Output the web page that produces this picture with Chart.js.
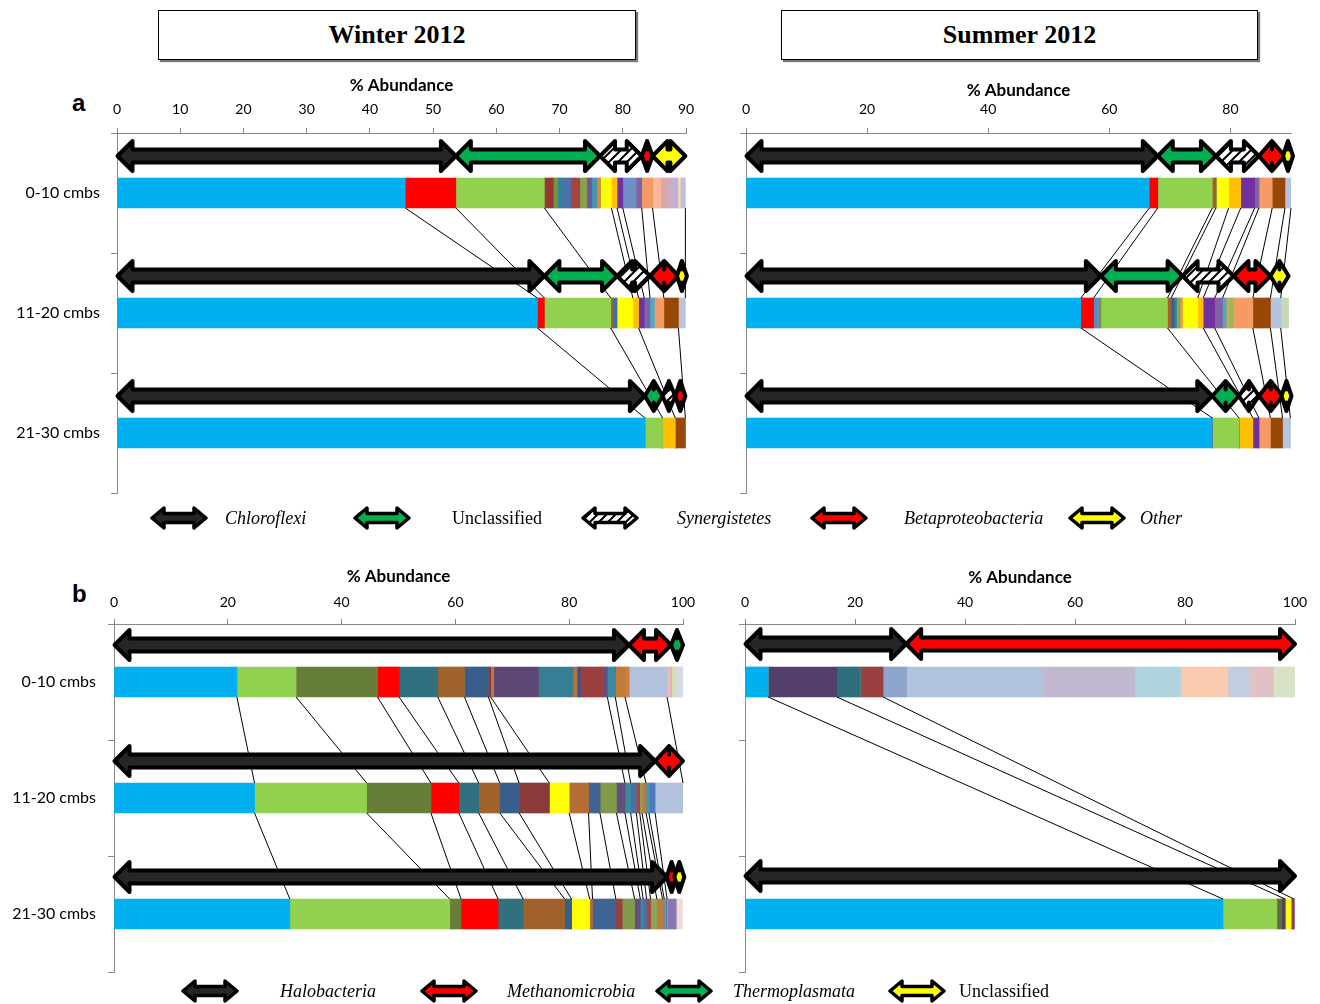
<!DOCTYPE html>
<html>
<head>
<meta charset="utf-8">
<script src="https://cdn.jsdelivr.net/npm/chart.js@4.4.1/dist/chart.umd.min.js"></script>
<style>
  body { margin: 0; background: #fff; }
  #page { position: relative; width: 1320px; height: 1004px; overflow: hidden; font-family: Lato, sans-serif; }
  .box { position: absolute; top: 10px; height: 48px; border: 1px solid #000; box-shadow: 2px 2px 1px #777;
         font: bold 26px "Liberation Serif", serif; text-align: center; line-height: 48px; background: #fff; }
  .panel { position: absolute; }
  .letter { position: absolute; font: bold 24px "Liberation Sans", sans-serif; line-height: 28px; }
  .leg { position: absolute; font: 18px "Liberation Serif", serif; line-height: 22px; white-space: nowrap; }
  .icon { position: absolute; }
</style>
</head>
<body>
<div id="page">
  <div class="box" style="left:158px;width:476px;">Winter 2012</div>
  <div class="box" style="left:781px;width:475px;">Summer 2012</div>
  <div class="letter" style="left:72px;top:89px;">a</div>
  <div class="letter" style="left:72px;top:580px;">b</div>

  <div class="panel" style="left:0;top:60px;"><canvas id="winterA" width="706" height="457"></canvas></div>
  <div class="panel" style="left:630px;top:60px;"><canvas id="summerA" width="680" height="440"></canvas></div>
  <div class="panel" style="left:0;top:550px;"><canvas id="winterB" width="705" height="446"></canvas></div>
  <div class="panel" style="left:630px;top:550px;"><canvas id="summerB" width="687" height="430"></canvas></div>

  <div id="legends"></div>
</div>

<script>
// categories
const depths = ['0-10 cmbs', '11-20 cmbs', '21-30 cmbs'];
const phylaA = ['Chloroflexi', 'Unclassified', 'Synergistetes', 'Betaproteobacteria', 'Other'];
const phylaB = ['Halobacteria', 'Methanomicrobia', 'Thermoplasmata', 'Unclassified'];

// tick labels
const ticksWinterA = [0, 10, 20, 30, 40, 50, 60, 70, 80, 90];
const ticksSummerA = [0, 20, 40, 60, 80];
const ticksB = [0, 20, 40, 60, 80, 100];

// % abundance per taxon, one value per depth
const winterAValues = [
  [45.6, 66.5, 83.5], [8.0, 1.1, 0], [14.0, 10.5, 2.8], [1.4, 0, 0], [0.7, 0, 0],
  [0.7, 0, 0], [1.4, 0, 0], [1.4, 0, 0], [1.1, 0, 0], [0.8, 0, 0],
  [0.8, 0, 0], [0.5, 0, 0], [0, 0.4, 0], [0, 0.6, 0], [1.8, 2.5, 0],
  [0.9, 0.9, 2.0], [0.9, 0.9, 0], [2.1, 0, 0], [0.9, 0.9, 0], [0, 0.7, 0],
  [1.7, 1.5, 0], [0, 2.3, 1.6], [1.3, 0, 0], [1.4, 0, 0], [1.3, 0, 0],
  [0.4, 0, 0], [0.8, 1.1, 0]
];
const winterAPhylum = [0, 0, 1, 1, 1, 1, 1, 1, 1, 1, 1, 1, 1, 1, 2, 2, 2, 2, 2, 3, 3, 3, 4, 4, 4, 4, 4];

const summerAValues = [
  [66.6, 55.3, 77.0], [1.4, 2.1, 0], [0, 0.8, 0], [0, 0.4, 0], [9.0, 11.0, 4.4],
  [0.6, 0.6, 0], [0, 0.5, 0], [0, 0.4, 0], [0, 0.6, 0], [0, 0.4, 0],
  [2.1, 2.5, 0], [2.0, 0.9, 2.3], [2.3, 1.9, 1.0], [0.7, 1.3, 0], [0, 0.6, 0],
  [0, 0.3, 0], [0, 0.9, 0], [2.2, 3.2, 1.9], [2.1, 2.9, 2.0], [1.0, 1.7, 1.3],
  [0, 1.3, 0]
];
const summerAPhylum = [0, 0, 0, 0, 1, 1, 1, 1, 1, 1, 2, 2, 2, 2, 2, 2, 2, 3, 3, 4, 4];

const winterBValues = [
  [21.6, 24.7, 30.9], [10.4, 19.7, 28.1], [14.3, 11.3, 2.0], [3.8, 4.9, 6.5], [6.8, 3.5, 4.4],
  [4.7, 3.7, 7.3], [4.2, 3.4, 1.2], [0.4, 5.3, 0], [0.5, 0, 0], [0, 3.5, 3.2],
  [0, 3.4, 0.5], [7.9, 0, 0], [6.1, 0, 0], [0.7, 0, 0], [0.5, 0, 0],
  [0, 2.0, 4.1], [4.0, 0, 1.1], [0, 2.9, 2.2], [0.8, 1.5, 1.0], [1.4, 1.0, 0.5],
  [0, 1.0, 0.6], [0, 0.6, 0.7], [0, 0.4, 1.1], [1.7, 0.7, 1.0], [0, 0.5, 0.3],
  [0.7, 0, 0.2], [0, 1.1, 0.3], [6.7, 4.9, 0], [0.7, 0, 0], [0, 0, 1.6],
  [1.0, 0, 0], [1.1, 0, 0], [0, 0, 1.1]
];
const winterBPhylum = [0, 0, 0, 0, 0, 0, 0, 0, 0, 0, 0, 0, 0, 0, 0, 0, 0, 0, 0, 0,
  0, 0, 0, 0, 0, 0, 0, 1, 1, 1, 2, 2, 3];

const summerBValues = [
  [4.2, 0, 86.9], [0, 0, 9.8], [0, 0, 0.9], [12.5, 0, 0.6], [4.3, 0, 0],
  [0, 0, 1.1], [4.1, 0, 0.5], [4.2, 0, 0], [0, 0, 0.2], [24.8, 0, 0],
  [16.8, 0, 0], [8.3, 0, 0], [8.6, 0, 0], [4.0, 0, 0], [4.3, 0, 0],
  [3.9, 0, 0]
];
const summerBPhylum = [0, 0, 0, 0, 0, 0, 0, 0, 0, 1, 1, 1, 1, 1, 1, 1];

// colours
const winterAColors = ['#00B0F0', '#FF0000', '#92D050', '#953735', '#77933C', '#31849B', '#4A72A8', '#A5443F',
  '#86A24A', '#6B5A96', '#4198AF', '#E2882F', '#A0622D', '#3A6DB3', '#FFFF00', '#FFC000', '#7030A0', '#6F8FC6',
  '#8064A2', '#4BACC6', '#F79B66', '#974706', '#FAB896', '#D9A8AC', '#BFB1CF', '#FCD5B5', '#B9C4DC'];
const summerAColors = ['#00B0F0', '#FF0000', '#5B8BC8', '#77933C', '#92D050', '#A0622D', '#3D5F8F', '#31849B',
  '#8DA34E', '#E8A13A', '#FFFF00', '#FFC000', '#7030A0', '#8064A2', '#4BACC6', '#F79646', '#9BBB59', '#F79B66',
  '#974706', '#B4C4DE', '#C4D9B4'];
const winterBColors = ['#00B0F0', '#92D050', '#677E38', '#FF0000', '#31707F', '#A0622D', '#3A5E8C', '#8B3A3A',
  '#C0703A', '#FFFF00', '#B46D33', '#5E4776', '#357E93', '#C07234', '#2F5597', '#3E6496', '#9A3E3E', '#7F9A48',
  '#634E7E', '#3B8AA0', '#4A6FA5', '#A94444', '#8AA656', '#C27A38', '#4198AF', '#D08040', '#4F7BBE',
  '#B2C2DD', '#E6B9B8', '#8A76AE', '#D2DFBE', '#D3DAEB', '#F2D9D9'];
const summerBColors = ['#00B0F0', '#92D050', '#5F6F3B', '#533F6B', '#2F6E7E', '#FFFF00', '#9A3F3F', '#8EA5CB',
  '#8C7BA8', '#B0C2DC', '#BFB8CF', '#B0D4DD', '#F9C9B0', '#C3CCE0', '#E1C1C3', '#D7E1C4'];

const axisGrey = '#898989';
const font = 'Lato';

function hatchPattern(ctx) {
  const c = document.createElement('canvas');
  c.width = 9; c.height = 9;
  const g = c.getContext('2d');
  g.fillStyle = '#fff';
  g.fillRect(0, 0, 9, 9);
  g.strokeStyle = '#000';
  g.lineWidth = 2;
  g.beginPath();
  g.moveTo(-2, 11); g.lineTo(11, -2);
  g.moveTo(-6, 6); g.lineTo(6, -6);
  g.moveTo(3, 15); g.lineTo(15, 3);
  g.stroke();
  return ctx.createPattern(c, 'repeat');
}

function arrowFills(ctx) {
  return ['#262626', '#00B050', hatchPattern(ctx), '#FF0000', '#FFFF00'];
}
function arrowFillsB(ctx) {
  return ['#262626', '#FF0000', '#00B050', '#FFFF00'];
}

function drawArrow(ctx, x1, x2, y, fill, hh, sh, hl, lw) {
  if (x2 - x1 < 10) {
    const mid = (x1 + x2) / 2;
    x1 = mid - 5; x2 = mid + 5;
  }
  const head = Math.min(hl, (x2 - x1) / 2);
  ctx.save();
  ctx.beginPath();
  ctx.moveTo(x1, y);
  ctx.lineTo(x1 + head, y - hh);
  ctx.lineTo(x1 + head, y - sh);
  ctx.lineTo(x2 - head, y - sh);
  ctx.lineTo(x2 - head, y - hh);
  ctx.lineTo(x2, y);
  ctx.lineTo(x2 - head, y + hh);
  ctx.lineTo(x2 - head, y + sh);
  ctx.lineTo(x1 + head, y + sh);
  ctx.lineTo(x1 + head, y + hh);
  ctx.closePath();
  ctx.fillStyle = fill;
  ctx.fill();
  ctx.lineWidth = lw;
  ctx.lineJoin = 'round';
  ctx.strokeStyle = '#000';
  ctx.stroke();
  ctx.restore();
}

// series lines between depths and phylum arrows above each bar
function makeOverlay(phylum, fillsFn, rise) {
  return {
    id: 'overlay',
    afterDatasetsDraw(chart) {
      const ctx = chart.ctx;
      const sets = chart.data.datasets;
      const n = chart.data.labels.length;
      const metas = sets.map((d, i) => chart.getDatasetMeta(i));
      const rowHas = r => sets.some(d => d.data[r] > 0);
      ctx.save();
      ctx.strokeStyle = '#000';
      ctx.lineWidth = 1;
      for (let r = 0; r < n; r++) {
        if (!rowHas(r)) continue;
        let r2 = r + 1;
        while (r2 < n && !rowHas(r2)) r2++;
        if (r2 >= n) continue;
        metas.forEach((m, k) => {
          const d = sets[k].data;
          if (d[r] > 0 && d[r2] > 0) {
            const a = m.data[r], b = m.data[r2];
            ctx.beginPath();
            ctx.moveTo(a.x, a.y + a.height / 2);
            ctx.lineTo(b.x, b.y - b.height / 2);
            ctx.stroke();
          }
        });
      }
      ctx.restore();
      const fills = fillsFn(ctx);
      for (let r = 0; r < n; r++) {
        const ext = {};
        metas.forEach((m, k) => {
          if (!(sets[k].data[r] > 0)) return;
          const el = m.data[r];
          const lo = Math.min(el.base, el.x), hi = Math.max(el.base, el.x);
          const p = phylum[k];
          if (!ext[p]) ext[p] = [lo, hi, el.y];
          else { ext[p][0] = Math.min(ext[p][0], lo); ext[p][1] = Math.max(ext[p][1], hi); }
        });
        Object.keys(ext).forEach(p => {
          drawArrow(ctx, ext[p][0], ext[p][1], ext[p][2] - rise, fills[p], 15, 6.5, 15, 4);
        });
      }
    }
  };
}

function buildChart(id, values, colors, phylum, fillsFn, opts) {
  const canvas = document.getElementById(id);
  const datasets = values.map((v, i) => ({
    data: v.slice(),
    backgroundColor: colors[i],
    borderWidth: 0,
    barThickness: 30
  }));
  return new Chart(canvas.getContext('2d'), {
    type: 'bar',
    data: { labels: depths.slice(), datasets: datasets },
    options: {
      indexAxis: 'y',
      responsive: false,
      animation: false,
      events: [],
      layout: { autoPadding: false, padding: { left: 0, top: 0, right: opts.padRight, bottom: opts.padBottom } },
      plugins: { legend: { display: false }, tooltip: { enabled: false } },
      scales: {
        x: {
          type: 'linear',
          position: 'top',
          stacked: true,
          min: 0,
          max: opts.max,
          afterBuildTicks: axis => { axis.ticks = opts.ticks.map(v => ({ value: v })); },
          afterFit: s => { s.height = opts.xHeight; },
          grid: { display: true, drawOnChartArea: false, drawTicks: true, tickLength: 5, color: axisGrey },
          border: { display: true, color: axisGrey },
          ticks: { color: '#000', font: { family: font, size: 14 }, padding: opts.tickPad, maxRotation: 0 },
          title: { display: true, text: '% Abundance', color: '#000',
                   font: { family: font, size: 17, weight: 'bold' }, padding: { top: opts.titlePad, bottom: 0 } }
        },
        y: {
          stacked: true,
          afterFit: s => { s.width = opts.yWidth; },
          grid: { display: true, offset: true, drawOnChartArea: false, drawTicks: true, tickLength: 6, color: axisGrey },
          border: { display: true, color: axisGrey },
          ticks: { display: opts.showLabels, color: '#000', font: { family: font, size: 16 }, padding: opts.labelPad }
        }
      }
    },
    plugins: [makeOverlay(phylum, fillsFn, opts.rise)]
  });
}

buildChart('winterA', winterAValues, winterAColors, winterAPhylum, arrowFills,
  { max: 90, ticks: ticksWinterA, padRight: 20, padBottom: 24, xHeight: 73, yWidth: 117,
    tickPad: 10, titlePad: 15, showLabels: true, labelPad: 11, rise: 37 });
buildChart('summerA', summerAValues, summerAColors, summerAPhylum, arrowFills,
  { max: 90, ticks: ticksSummerA, padRight: 19, padBottom: 7, xHeight: 73, yWidth: 116,
    tickPad: 10, titlePad: 20, showLabels: false, labelPad: 11, rise: 37 });
buildChart('winterB', winterBValues, winterBColors, winterBPhylum, arrowFillsB,
  { max: 100, ticks: ticksB, padRight: 22, padBottom: 24, xHeight: 74, yWidth: 114,
    tickPad: 8, titlePad: 16, showLabels: true, labelPad: 12, rise: 37 });
buildChart('summerB', summerBValues, summerBColors, summerBPhylum, arrowFillsB,
  { max: 100, ticks: ticksB, padRight: 22, padBottom: 8, xHeight: 74, yWidth: 115,
    tickPad: 8, titlePad: 17, showLabels: false, labelPad: 12, rise: 38 });

// legends
const legendA = [
  { icon: 152, text: 225, italic: true },
  { icon: 355, text: 452, italic: false },
  { icon: 583, text: 677, italic: true },
  { icon: 812, text: 904, italic: true },
  { icon: 1070, text: 1140, italic: true }
];
const legendB = [
  { icon: 183, text: 280, italic: true },
  { icon: 422, text: 507, italic: true },
  { icon: 657, text: 733, italic: true },
  { icon: 890, text: 959, italic: false }
];
const legendsEl = document.getElementById('legends');
function addLegend(items, names, fillsFn, cy) {
  items.forEach((it, i) => {
    const c = document.createElement('canvas');
    c.width = 58; c.height = 28;
    c.className = 'icon';
    c.style.left = (it.icon - 2) + 'px';
    c.style.top = (cy - 14) + 'px';
    legendsEl.appendChild(c);
    const g = c.getContext('2d');
    drawArrow(g, 2, 56, 14, fillsFn(g)[i], 10, 4.5, 12, 3.5);
    const s = document.createElement('div');
    s.className = 'leg';
    s.style.left = it.text + 'px';
    s.style.top = (cy - 11) + 'px';
    if (it.italic) s.style.fontStyle = 'italic';
    s.textContent = names[i];
    legendsEl.appendChild(s);
  });
}
addLegend(legendA, phylaA, arrowFills, 518);
addLegend(legendB, phylaB, arrowFillsB, 991);
</script>
</body>
</html>
